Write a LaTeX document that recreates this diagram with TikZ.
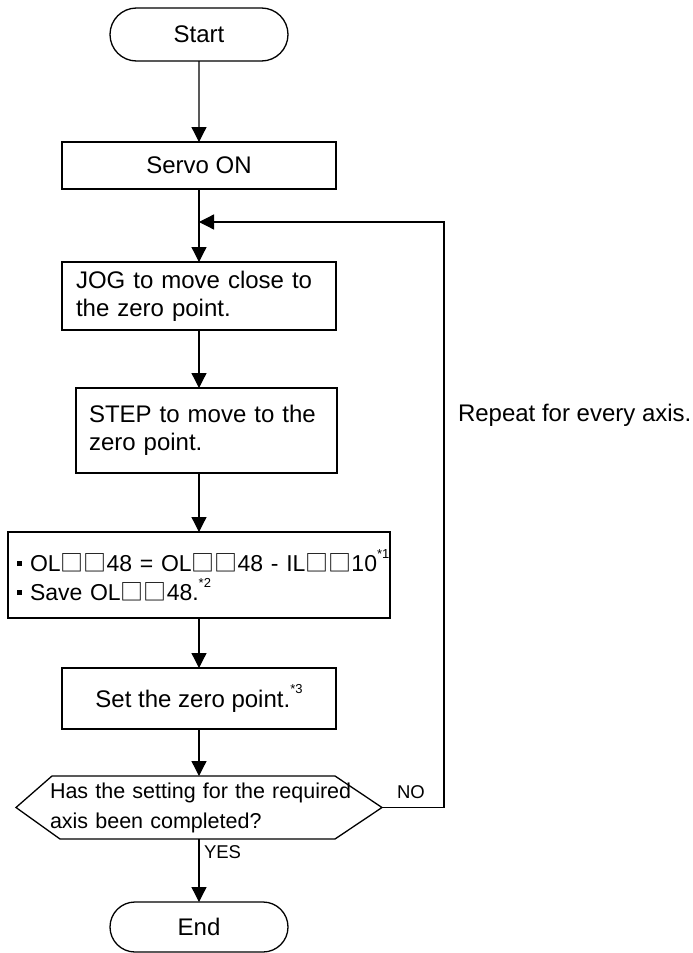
\documentclass[tikz,border=0pt]{standalone}
\usepackage{fontspec}
\setmainfont{Liberation Sans}
\newfontfamily\cjkfont{Noto Sans CJK JP}
\usetikzlibrary{arrows.meta,shapes.misc}
\newcommand{\sqbox}{{\cjkfont □}}
\newcommand{\blt}{\rule[5pt]{5pt}{5pt}\hspace{8pt}}
\newcommand{\supnote}[1]{\raisebox{0.55em}{\fontsize{13}{13}\selectfont *#1}}
\begin{document}
\begin{tikzpicture}[x=1pt,y=-1pt,
  every node/.style={inner sep=0pt, outer sep=0pt},
  mainfs/.style={font=\fontsize{24}{28}\selectfont},
  boxed/.style={draw, line width=1.3pt, mainfs},
  term/.style={draw, line width=1.3pt, rounded rectangle, minimum width=178, minimum height=53, mainfs},
  conn/.style={line width=1.3pt},
  arr/.style={conn, -{Triangle[width=15pt,length=15pt]}},
  lbl/.style={font=\fontsize{18.5}{22}\selectfont}
]
\useasboundingbox (0,0) rectangle (693,953);

\node[term] (start) at (199,34.5) {Start};
\node[boxed, minimum width=274, minimum height=47] (servo) at (199,165.5) {Servo ON};
\node[boxed, minimum width=274, minimum height=68, text width=246, align=left] (jog) at (199,296) {\mbox{JOG to move close to}\\\mbox{the zero point.}};
\node[boxed, minimum width=261, minimum height=85, text width=235, align=left] (stp) at (206.5,430.5) {\mbox{STEP to move to the}\\\mbox{zero point.}};
\node[boxed, minimum width=382, minimum height=86, text width=364, align=left, font=\fontsize{23}{29}\selectfont] (calc) at (199,575) {\mbox{\blt OL\sqbox\sqbox48 = OL\sqbox\sqbox48 - IL\sqbox\sqbox10\supnote{1}}\\\mbox{\blt Save OL\sqbox\sqbox48.\supnote{2}}};
\node[boxed, minimum width=274, minimum height=61] (setz) at (199,698.5) {Set the zero point.\supnote{3}};
\node[minimum width=366, minimum height=63, text width=298, align=left, font=\fontsize{21.5}{30}\selectfont] (dec) at (199,807.5) {\mbox{Has the setting for the required}\\\mbox{axis been completed?}};
\draw[conn] (dec.west) -- ([xshift=36]dec.north west) -- ([xshift=-47]dec.north east) -- (dec.east) -- ([xshift=-47]dec.south east) -- ([xshift=44]dec.south west) -- cycle;
\node[term, minimum height=50] (endn) at (199,927) {End};

\node[lbl, anchor=west] (no) at (397,792) {NO};
\node[lbl, anchor=west] (yes) at (204,852) {YES};
\node[mainfs, anchor=west] (rep) at (458,415) {Repeat for every axis.};

\coordinate (loopR) at (444,222);
\coordinate (join) at (199,222);

\draw[arr] (start) -- (servo);
\draw[arr] (servo) -- (jog);
\draw[arr] (jog) -- (jog |- stp.north);
\draw[arr] (jog |- stp.south) -- (calc);
\draw[arr] (calc) -- (setz);
\draw[arr] (setz) -- (setz |- dec.north);
\draw[arr] (setz |- dec.south) -- (endn);
\draw[arr] (dec.east) -| (loopR) -- (join);
\end{tikzpicture}
\end{document}
